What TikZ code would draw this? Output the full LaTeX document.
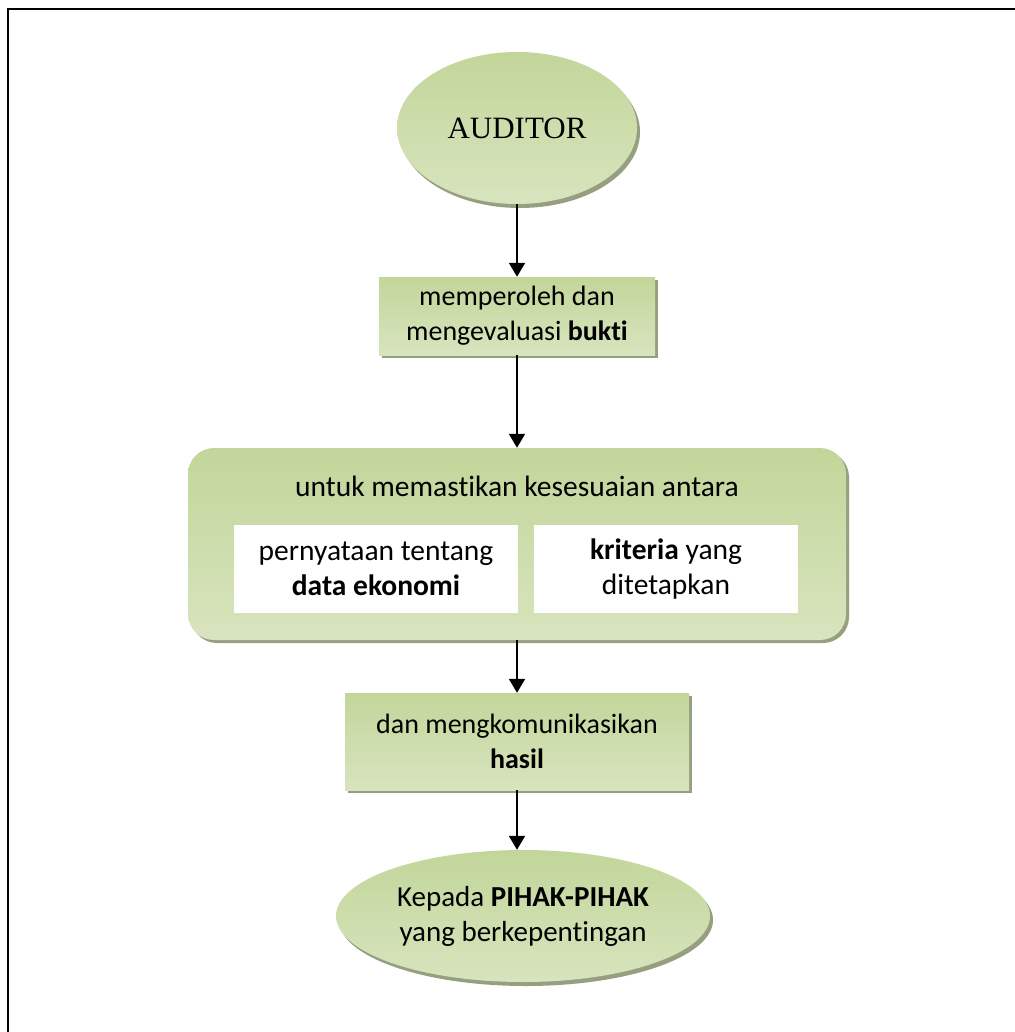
\documentclass[tikz,border=0pt]{standalone}
\usepackage{fontspec}
\setmainfont{Carlito}[Ligatures=NoCommon]
\newfontfamily\serifaud{Liberation Serif}
\usepackage{tikz}
\usetikzlibrary{shapes.geometric, arrows.meta, positioning, shadows}
\usepackage{xcolor}
\definecolor{grtop}{RGB}{194,214,154}
\definecolor{grbot}{RGB}{216,228,190}
\definecolor{shadegray}{RGB}{150,160,128}
\tikzstyle{oval} = [ellipse, inner sep=0pt, text centered, top color=grtop, bottom color=grbot, drop shadow={shadow xshift=3pt, shadow yshift=-4pt, fill=shadegray, opacity=1}]
\tikzstyle{stage} = [rectangle, inner sep=0pt, text centered, top color=grtop, bottom color=grbot, drop shadow={shadow xshift=3pt, shadow yshift=-3pt, fill=shadegray, opacity=1}]
\tikzstyle{panel} = [stage, rounded corners=26pt]
\tikzstyle{subbox} = [rectangle, inner sep=0pt, text centered, fill=white, minimum height=88pt, font=\fontsize{29.5}{35}\selectfont]
\tikzstyle{arrow} = [line width=2pt,-{Triangle[length=14pt,width=16pt]}]

\begin{document}
\begin{tikzpicture}[node distance=200pt, font=\fontsize{28}{35}\selectfont]

\useasboundingbox (0,0) rectangle (1014pt,-1032pt);
% frame
\draw [line width=2.5pt] (8pt,-1040pt) -- (8pt,-9pt) -- (1020pt,-9pt);

\node (auditor) [oval, minimum width=240pt, minimum height=152pt] at (517pt,-128pt) {\serifaud\fontsize{31}{36}\selectfont\raisebox{-3pt}{AUDITOR}};
\node (evidence) [stage, below of=auditor, yshift=12pt, minimum width=276pt, minimum height=78pt, align=center] {memperoleh dan\\mengevaluasi \textbf{bukti}};
\node (check) [panel, below of=evidence, yshift=-28pt, minimum width=658pt, minimum height=192pt] {};
\node (title) [above of=check, node distance=58pt, font=\fontsize{29.5}{35}\selectfont] {untuk memastikan kesesuaian antara};
\node (stmt) [subbox, below of=check, node distance=25pt, xshift=-141pt, minimum width=284pt, align=center] {pernyataan tentang\\\textbf{data ekonomi}};
\node (crit) [subbox, below of=check, node distance=25pt, xshift=149pt, minimum width=264pt, align=center] {\textbf{kriteria} yang\\ditetapkan};
\node (report) [stage, below of=check, yshift=2.5pt, minimum width=344pt, minimum height=97pt, align=center] {dan mengkomunikasikan\\\textbf{hasil}};
\node (parties) [oval, below of=report, yshift=25.5pt, xshift=6pt, minimum width=374pt, minimum height=132pt, align=center, font=\fontsize{29}{35}\selectfont] {Kepada \textbf{PIHAK-PIHAK}\\yang berkepentingan};

\draw [arrow] (auditor) -- (evidence);
\draw [arrow] (evidence) -- (check);
\draw [arrow] (check) -- (report);
\draw [arrow] (report.south) -- (report.south |- parties.north);

\end{tikzpicture}
\end{document}
